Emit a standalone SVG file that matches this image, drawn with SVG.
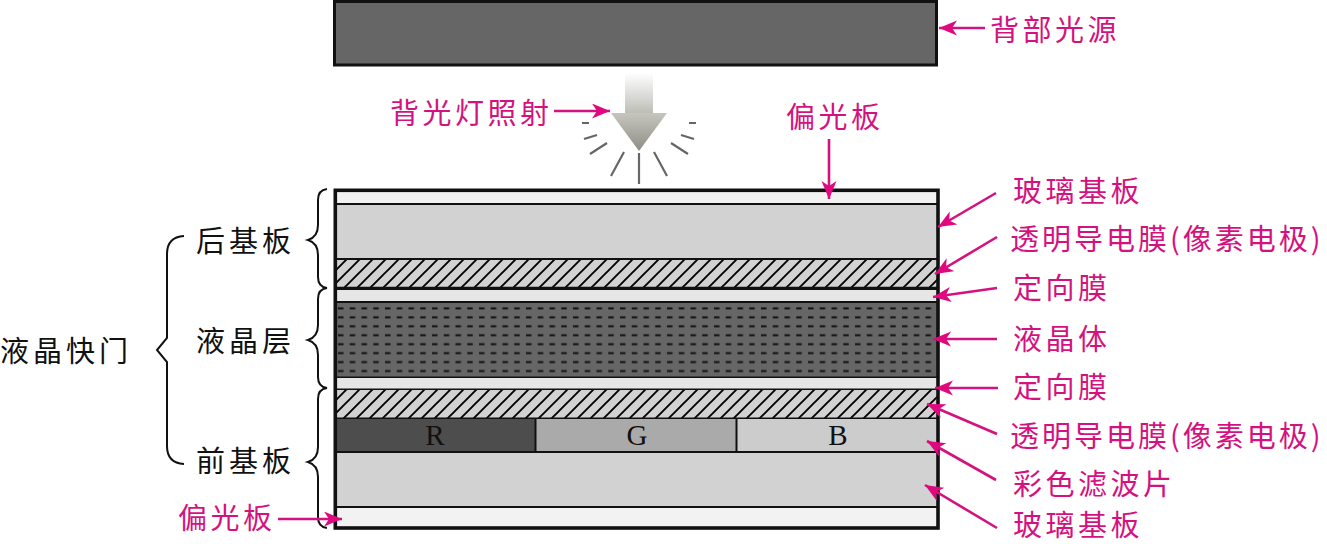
<svg xmlns="http://www.w3.org/2000/svg" width="1327" height="544" viewBox="0 0 1327 544">
<style>
.k{font-family:"Noto Sans CJK SC",sans-serif;font-size:29px;fill:#111;letter-spacing:4px}
.p{font-family:"Noto Sans CJK SC",sans-serif;font-size:29px;fill:#d4127f;letter-spacing:3.5px}
.w{letter-spacing:3px}
.l{font-family:"Liberation Serif",serif;font-size:29px;fill:#111;text-anchor:middle}
.a{stroke:#d4127f;stroke-width:2.6;fill:none;marker-end:url(#ah)}
.b{fill:none;stroke:#111;stroke-width:2}
.r{stroke:#666;stroke-width:2.2;fill:none}
.s{stroke:#111;stroke-width:2}
</style>
<defs>
<marker id="ah" markerUnits="userSpaceOnUse" markerWidth="20" markerHeight="16" refX="18" refY="7.5" orient="auto"><path d="M18,7.5 L0,0 L5,7.5 L0,15 Z" fill="#e0087f"/></marker>
<linearGradient id="sh" x1="0" y1="0" x2="0" y2="1"><stop offset="0" stop-color="#fff"/><stop offset="1" stop-color="#bcbcb6"/></linearGradient>
<linearGradient id="tr" x1="0" y1="0" x2="0" y2="1"><stop offset="0" stop-color="#c6c6be"/><stop offset="1" stop-color="#8e8e86"/></linearGradient>
<pattern id="ha" patternUnits="userSpaceOnUse" x="334" y="259" width="13" height="13"><rect width="13" height="13" fill="#d2d2d2"/><path d="M-3,3 L3,-3 M0,13 L13,0 M10,16 L16,10" stroke="#000" stroke-width="1.9"/></pattern>
<pattern id="lc" patternUnits="userSpaceOnUse" x="336" y="304" width="11.75" height="8.95"><rect width="11.75" height="8.95" fill="#666"/><rect x="2" y="3.4" width="5.5" height="2" fill="#111"/></pattern>
</defs>
<g id="backlight"><rect x="334.5" y="1.5" width="602" height="63.5" fill="#666" stroke="#111" stroke-width="3"/><text class="p" x="990" y="41">背部光源</text></g>
<g id="beam">
<rect x="625" y="73" width="28" height="41" fill="url(#sh)"/>
<path d="M611,113 H667 L639,151 Z" fill="url(#tr)"/>
<path class="r" d="M639,153 V184 M624,152 L611,176 M654,152 L667,176 M607,143 L590,154 M671,143 L688,154 M597,135 L584,139 M681,135 L694,139 M582,123 H589 M689,123 H696"/>
<text class="p" x="390" y="124">背光灯照射</text>
</g>
<g id="top-polarizer"><rect x="335" y="191" width="602" height="13" fill="#f2f2f2"/><path class="s" d="M335,204 H937"/><text class="p" x="786" y="128">偏光板</text></g>
<g id="rear-glass"><rect x="335" y="205" width="602" height="54" fill="#d2d2d2"/><path class="s" d="M335,259 H937"/></g>
<g id="rear-film"><rect x="335" y="260" width="602" height="28" fill="url(#ha)"/><path d="M335,288.500 H937" stroke="#111" stroke-width="3.400"/></g>
<g id="rear-alignment"><rect x="335" y="290" width="602" height="12" fill="#e6e6e6"/><path class="s" d="M335,302 H937"/></g>
<g id="liquid-crystal"><rect x="335" y="303" width="602" height="74" fill="url(#lc)"/><path class="s" d="M335,377.500 H937"/></g>
<g id="front-alignment"><rect x="335" y="378" width="602" height="11" fill="#e6e6e6"/><path class="s" d="M335,389.500 H937"/></g>
<g id="front-film"><rect x="335" y="390" width="602" height="28" fill="url(#ha)"/><path class="s" d="M335,418.500 H937"/></g>
<g id="filter-r"><rect x="335" y="419" width="200" height="33" fill="#4d4d4d"/><text class="l" x="435" y="445">R</text></g>
<g id="filter-g"><rect x="535" y="419" width="202" height="33" fill="#aaa"/><text class="l" x="637" y="445">G</text></g>
<g id="filter-b"><rect x="737" y="419" width="200" height="33" fill="#ccc"/><text class="l" x="838" y="445">B</text></g>
<path class="s" d="M335,452 H937 M535.500,419 V452 M736.500,419 V452"/>
<g id="front-glass"><rect x="335" y="453" width="602" height="54" fill="#d2d2d2"/><path class="s" d="M335,507 H937"/></g>
<g id="bottom-polarizer"><rect x="335" y="508" width="602" height="19" fill="#f2f2f2"/></g>
<rect x="335.300" y="190.300" width="602.700" height="337.700" fill="none" stroke="#111" stroke-width="3.600"/>
<g id="labels-right">
<text class="p" x="1013" y="202">玻璃基板</text>
<text class="p w" x="1010" y="250">透明导电膜(像素电极)</text>
<text class="p" x="1013" y="299">定向膜</text>
<text class="p" x="1013" y="350">液晶体</text>
<text class="p" x="1013" y="398">定向膜</text>
<text class="p w" x="1010" y="447">透明导电膜(像素电极)</text>
<text class="p" x="1013" y="495">彩色滤波片</text>
<text class="p" x="1013" y="536">玻璃基板</text>
</g>
<g id="labels-left">
<text class="k" x="196" y="252">后基板</text>
<text class="k" x="196" y="352">液晶层</text>
<text class="k" x="196" y="472">前基板</text>
<text class="k" x="0" y="362">液晶快门</text>
<text class="p" x="178" y="529">偏光板</text>
</g>
<g id="braces">
<path class="b" d="M327,189 Q318,190 318,200 V225 Q318,237 308,240 Q318,243 318,255 V277 Q318,287 327,288 Q318,289 318,299 V325 Q318,337 308,340 Q318,343 318,355 V377 Q318,387 327,388 Q318,389 318,399 V447 Q318,459 308,462 Q318,465 318,477 V517 Q318,527 327,528"/>
<path class="b" d="M184,236 Q167,237 167,254 V338 L157,350 L167,362 V446 Q167,463 184,464"/>
</g>
<g id="connectors">
<path class="a" d="M985,28 H939"/>
<path class="a" d="M554,111 H610"/>
<path class="a" d="M829,139 V199"/>
<path class="a" d="M996,193 L938,227"/>
<path class="a" d="M997,237 L935,274"/>
<path class="a" d="M997,288 L933,297"/>
<path class="a" d="M997,339 H933"/>
<path class="a" d="M998,388 H935"/>
<path class="a" d="M997,434 L927,404"/>
<path class="a" d="M996,480 L927,441"/>
<path class="a" d="M997,528 L925,485"/>
<path class="a" d="M278,519 H342"/>
</g>
</svg>
